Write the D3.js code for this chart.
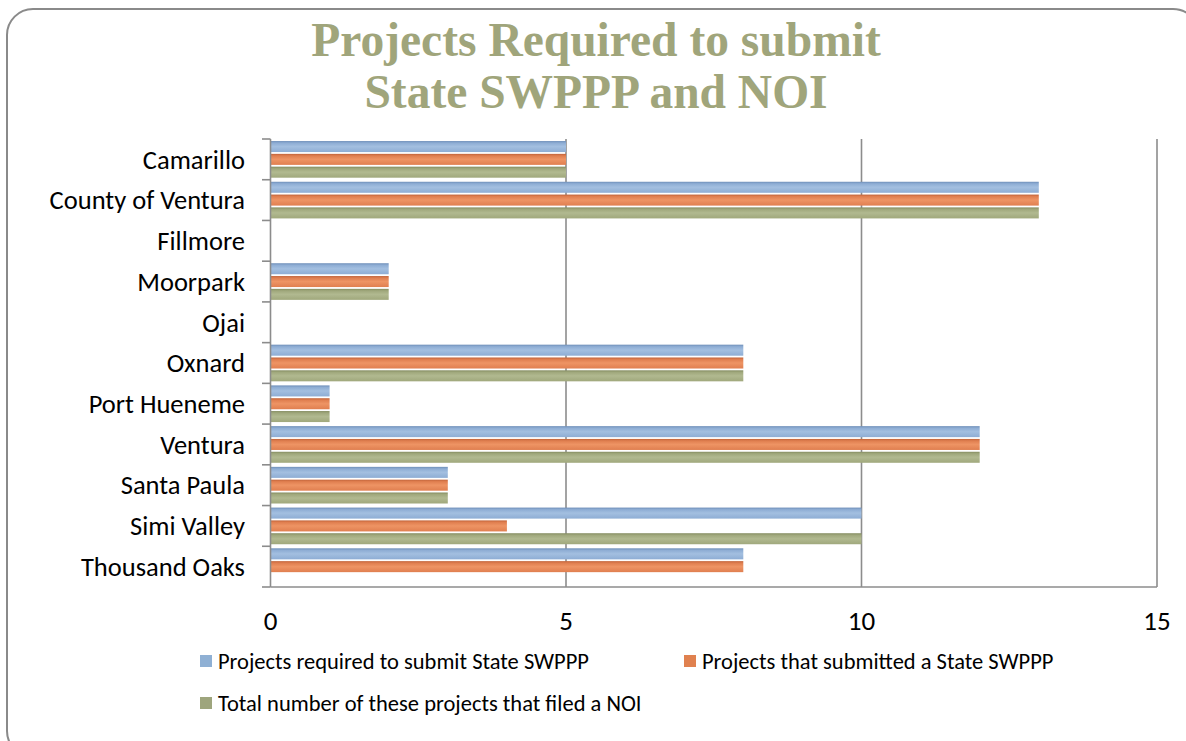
<!DOCTYPE html>
<html><head><meta charset="utf-8">
<script src="https://cdn.jsdelivr.net/npm/d3@7"></script>
<style>body{margin:0;background:#fff;}svg{display:block;}</style>
</head><body>
<script>
const categories = ["Camarillo","County of Ventura","Fillmore","Moorpark","Ojai","Oxnard","Port Hueneme","Ventura","Santa Paula","Simi Valley","Thousand Oaks"];
const seriesNames = ["Projects required to submit State SWPPP","Projects that submitted a State SWPPP","Total number of these projects that filed a NOI"];
const required  = [5,13,0,2,0,8,1,12,3,10,8];
const submitted = [5,13,0,2,0,8,1,12,3,4,8];
const filedNOI  = [5,13,0,2,0,8,1,12,3,10,0];
const xTicks = [0,5,10,15];
const titleLines = ["Projects Required to submit","State SWPPP and NOI"];

const W=1186,H=741;
const svg=d3.select("body").append("svg").attr("width",W).attr("height",H);
const defs=svg.append("defs");
const pal=[
  {top:"#6f8fb9",mid:"#a3bfe0",bot:"#8eadd4",leg:"#8fb0d4"},
  {top:"#c2643a",mid:"#ee9464",bot:"#e07f50",leg:"#e0814f"},
  {top:"#858d62",mid:"#b1b990",bot:"#a0a87c",leg:"#9ea57d"}
];
pal.forEach((p,i)=>{
  const g=defs.append("linearGradient").attr("id","g"+i).attr("x1",0).attr("y1",0).attr("x2",0).attr("y2",1);
  g.append("stop").attr("offset","0%").attr("stop-color",p.top);
  g.append("stop").attr("offset","18%").attr("stop-color",p.bot);
  g.append("stop").attr("offset","50%").attr("stop-color",p.mid);
  g.append("stop").attr("offset","100%").attr("stop-color",p.bot);
});

// frame
svg.append("rect").attr("x",7).attr("y",9).attr("width",1192).attr("height",748).attr("rx",26)
  .attr("fill","none").attr("stroke","#8a8a8a").attr("stroke-width",2);

// title
const title=svg.append("text").attr("text-anchor","middle").attr("fill","#a0a57b")
  .attr("font-family","'Liberation Serif','DejaVu Serif',serif").attr("font-weight","bold").attr("font-size",47.5);
titleLines.forEach((t,i)=>title.append("tspan").attr("x",596).attr("y",56+i*52).text(t));

const L=270.5,R=1157,T=139,B=587;
const x=d3.scaleLinear().domain([0,15]).range([L,R]);
const y=d3.scaleBand().domain(categories).range([T,B]).paddingInner(0.1).paddingOuter(0.05);
const yi=d3.scaleBand().domain([0,1,2]).range([0,y.bandwidth()]).paddingInner(0.14).paddingOuter(0);

// gridlines
svg.append("g").selectAll("line").data(xTicks.slice(1)).join("line")
  .attr("x1",d=>x(d)).attr("x2",d=>x(d)).attr("y1",T).attr("y2",B)
  .attr("stroke","#8c8c8c").attr("stroke-width",1.6);

// bars
const data=[required,submitted,filedNOI];
const gCat=svg.append("g").selectAll("g").data(categories).join("g")
  .attr("transform",c=>`translate(0,${y(c)})`);
gCat.selectAll("rect").data((c,ci)=>data.map((s,si)=>({si,v:s[ci]})).filter(d=>d.v>0)).join("rect")
  .attr("x",x(0)).attr("y",d=>yi(d.si)).attr("height",yi.bandwidth())
  .attr("width",d=>x(d.v)-x(0)).attr("fill",d=>`url(#g${d.si})`);

// y axis
const yBounds=d3.range(categories.length+1).map(i=>T+i*(B-T)/categories.length);
svg.append("line").attr("x1",L).attr("x2",L).attr("y1",T).attr("y2",B).attr("stroke","#8c8c8c").attr("stroke-width",1.6);
svg.append("g").selectAll("line").data(yBounds).join("line")
  .attr("x1",262).attr("x2",L).attr("y1",d=>d).attr("y2",d=>d).attr("stroke","#8c8c8c").attr("stroke-width",1.6);
svg.append("line").attr("x1",L).attr("x2",R).attr("y1",B).attr("y2",B).attr("stroke","#8c8c8c").attr("stroke-width",1.6);

const font="Carlito,'Open Sans','Noto Sans',sans-serif";
svg.append("g").selectAll("text").data(categories).join("text")
  .attr("x",245).attr("y",c=>y(c)+y.bandwidth()/2).attr("dy","0.35em").attr("text-anchor","end")
  .attr("font-family",font).attr("font-size",26.5).attr("fill","#000").text(c=>c);

svg.append("g").selectAll("text").data(xTicks).join("text")
  .attr("x",d=>x(d)).attr("y",630).attr("text-anchor","middle")
  .attr("font-family",font).attr("font-size",27).attr("fill","#000").text(d=>d);

// legend
const legPos=[[200,661],[684,661],[200,703]];
const leg=svg.append("g").selectAll("g").data(seriesNames).join("g")
  .attr("transform",(d,i)=>`translate(${legPos[i][0]},${legPos[i][1]})`);
leg.append("rect").attr("x",0).attr("y",-6).attr("width",12).attr("height",12).attr("fill",(d,i)=>pal[i].leg);
leg.append("text").attr("x",18).attr("y",0).attr("dy","0.35em").attr("font-family",font).attr("font-size",22.5)
  .attr("fill","#000").text(d=>d);
</script>
</body></html>
